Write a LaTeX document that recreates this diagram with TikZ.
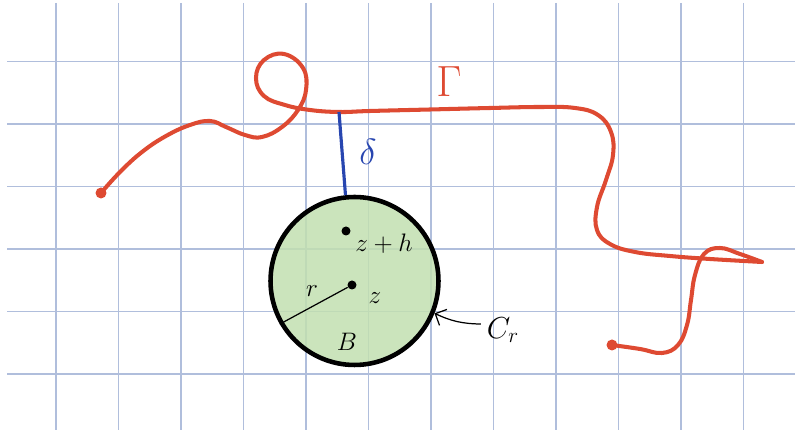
\documentclass[tikz,border=0pt]{standalone}
\usepackage{amsmath}
\usepackage{amssymb}
\usepackage{tikz}
\usetikzlibrary{
    positioning,
    arrows.meta
}
\definecolor{gridblue}{RGB}{176,190,220}
\definecolor{curvered}{RGB}{222,74,50}
\definecolor{deltablue}{RGB}{40,70,176}
\definecolor{ballgreen}{RGB}{194,223,176}
\tikzset{
    >=Stealth,
    gridline/.style={
        draw=gridblue,
        line width=1pt
    },
    curve/.style={
        draw=curvered,
        line width=2.3pt,
        line cap=round,
        line join=round
    },
    enddot/.style={
        circle,
        fill=curvered,
        inner sep=0pt,
        minimum size=0.22cm
    },
    ptdot/.style={
        circle,
        fill=black,
        inner sep=0pt,
        minimum size=0.18cm
    }
}

\begin{document}
\begin{tikzpicture}[
    x=0.02cm,
    y=-0.02cm,
    >=Stealth
]
    \useasboundingbox (0,0) rectangle (795,431);

    % Rejilla
    \foreach \i in {0,...,11}
        \draw[gridline] (56+62.5*\i,3) -- (56+62.5*\i,430);
    \foreach \j in {0,...,5}
        \draw[gridline] (7,61.5+62.5*\j) -- (795,61.5+62.5*\j);

    % Bola
    \node[circle, draw=black, line width=2.6pt, fill=ballgreen,
          fill opacity=0.85, minimum size=3.36cm, inner sep=0pt]
          (ball) at (354.5,281) {};

    % Puntos
    \node[ptdot] (z)  at (352,285) {};
    \node[ptdot] (zh) at (346,231) {};
    \node (zlab)  at (375,298) {\Large $z$};
    \node (zhlab) at (384,244) {\Large $z+h$};
    \node (rlab)  at (312,291) {\Large $r$};
    \node (blab)  at (347,342) {\Large $B$};
    \node (crlab) at (503,330) {\LARGE $C_r$};

    % Curva
    \node[enddot] (gstart) at (101,193) {};
    \node[enddot] (gend)   at (612,345) {};
    \coordinate (tip) at (762,262);
    \coordinate (foot) at (339,112);

    \draw[curve] plot[smooth, tension=0.7] coordinates {
        (101,193) (120,172) (142,152) (166,136) (190,125) (210,121)
        (226,127) (245,135) (262,137) (282,127) (298,110) (306,90)
        (303,68) (284,54) (264,60) (256,78) (264,96) (285,105)
        (310,110) (339,112) (370,111) (430,109.5) (490,108) (540,107)
        (575,108) (598,115) (611,132) (613,155) (606,180) (597,207)
        (597,230) (610,244) (635,252) (670,256) (710,259) (762,262)};
    \draw[curve] plot[smooth, tension=0.7] coordinates {
        (762,262) (740,254) (720,248) (704,254) (695,275) (691,300)
        (687,325) (678,345) (662,353) (640,349) (612,345)};

    \node[text=curvered] (gammalab) at (449,82) {\Huge $\Gamma$};

    % Distancia
    \draw[draw=deltablue, line width=1.8pt] (foot) -- (ball.96);
    \node[text=deltablue] (deltalab) at (368,152) {\huge $\delta$};

    % Radio y frontera
    \draw[line width=0.7pt] (z) -- (ball.210);
    \draw[-{Straight Barb[length=5pt]}, line width=0.7pt]
        (crlab.165) to[bend left=12] (ball.-22);

\end{tikzpicture}
\end{document}
